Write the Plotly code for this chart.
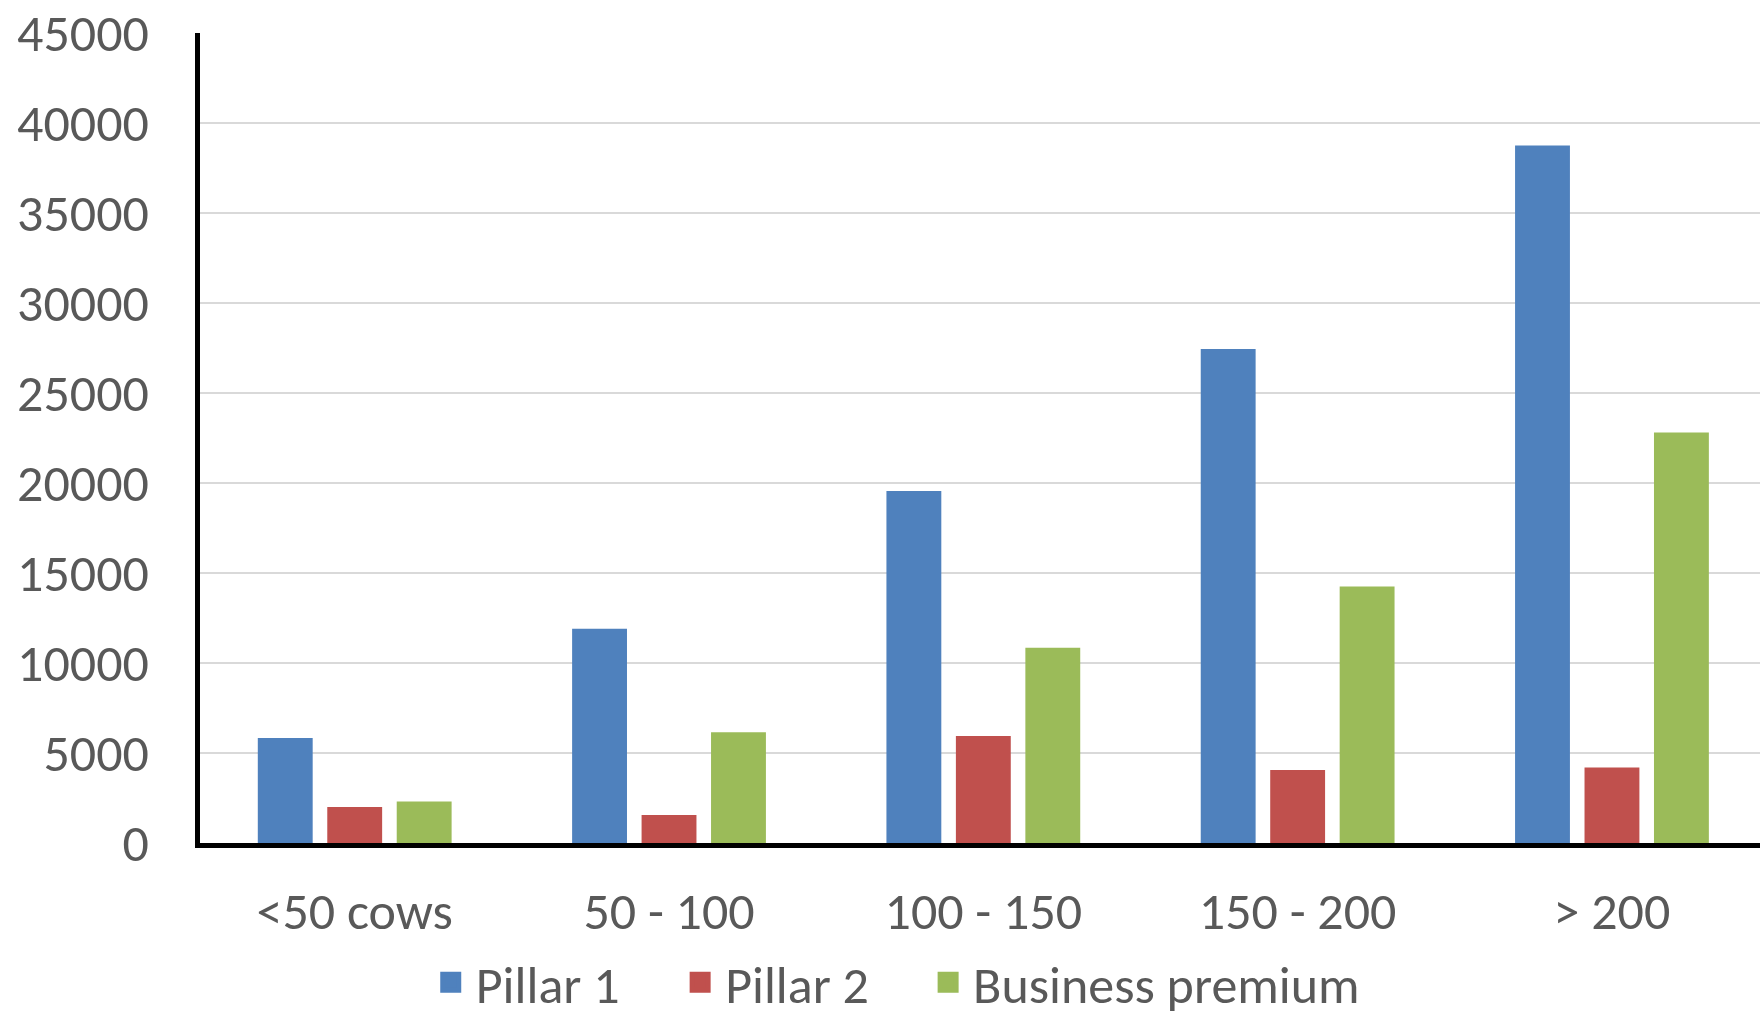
import plotly.graph_objects as go

categories = ["<50 cows", "50 - 100", "100 - 150", "150 - 200", "> 200"]
series_names = ["Pillar 1", "Pillar 2", "Business premium"]
pillar1 = [5830, 11900, 19550, 27450, 38750]
pillar2 = [2000, 1550, 5950, 4050, 4200]
business_premium = [2300, 6150, 10850, 14250, 22800]
colors = ["#4F81BD", "#C0504D", "#9BBB59"]
y_ticks = [0, 5000, 10000, 15000, 20000, 25000, 30000, 35000, 40000, 45000]

FONT = "Carlito, Calibri, Lato, sans-serif"
TXT = "#595959"
FS = 52

legend_ids = ["legend", "legend2", "legend3"]
legend_x = [0.2419, 0.3836, 0.5245]

fig = go.Figure()
for name, vals, col in zip(series_names, [pillar1, pillar2, business_premium], colors):
    fig.add_trace(go.Bar(x=categories, y=vals, name=name, marker_color=col,
                         marker_line_width=0, showlegend=False))
for name, col, lid in zip(series_names, colors, legend_ids):
    fig.add_trace(go.Scatter(x=[None], y=[None], name=name, mode="markers", legend=lid,
                             marker=dict(symbol="square", size=16, color=col,
                                         line=dict(color=col, width=5))))

legend_common = dict(orientation="h", xref="container", yref="container", xanchor="left",
                     y=0.0792, yanchor="top", bgcolor="rgba(0,0,0,0)",
                     font=dict(family=FONT, size=FS, color=TXT), itemwidth=40)

fig.update_layout(
    width=1760, height=1023,
    margin=dict(l=200, r=0, t=33, b=180, autoexpand=False),
    paper_bgcolor="white", plot_bgcolor="white",
    barmode="group", bargap=0.337, bargroupgap=0.21,
    font=dict(family=FONT, size=FS, color=TXT),
    legend=dict(x=legend_x[0], **legend_common),
    legend2=dict(x=legend_x[1], **legend_common),
    legend3=dict(x=legend_x[2], **legend_common),
)
fig.update_xaxes(range=[-0.4922, 4.471], showline=True, linecolor="black", linewidth=4.5,
                 showgrid=False, ticks="", ticklabelstandoff=19,
                 tickfont=dict(family=FONT, size=FS, color=TXT))
fig.update_yaxes(range=[0, 45000], tickvals=y_ticks, tickformat="d", showline=True,
                 linecolor="black", linewidth=4.5, showgrid=True, gridcolor="#D9D9D9",
                 gridwidth=1.6, zeroline=False, ticks="", ticklabelstandoff=36,
                 tickfont=dict(family=FONT, size=FS, color=TXT))

fig.write_html("out.html", config={"displayModeBar": False},
               post_script="document.body.style.margin='0';document.body.style.overflow='hidden';")
